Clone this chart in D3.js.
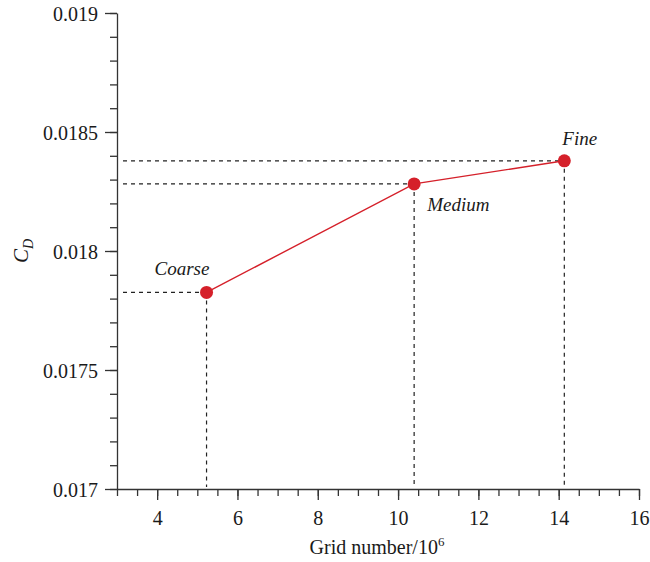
<!DOCTYPE html>
<html>
<head>
<meta charset="utf-8">
<script src="https://cdn.jsdelivr.net/npm/d3@7"></script>
<style>
body { margin: 0; background: #fff; }
svg { display: block; }
text { font-family: "Liberation Serif", "DejaVu Serif", serif; fill: #1a1a1a; }
</style>
</head>
<body>
<script>
// data
var grid_names = ["Coarse", "Medium", "Fine"];
var grid_numbers = [5.23, 10.40, 14.14];
var cd_values = [0.017826, 0.018282, 0.018379];

var x_major = [4, 6, 8, 10, 12, 14, 16];
var y_major = [0.017, 0.0175, 0.018, 0.0185, 0.019];

var width = 650, height = 562;
var left = 117, right = 639, top_ = 13, bottom = 489;
var red = "#d5202a";
var axis_color = "#333";

// label offsets from their point
var label_dx = [-52, 13, -2];
var label_dy = [-17, 27, -16];

var svg = d3.select("body").append("svg")
	.attr("width", width)
	.attr("height", height);

var x = d3.scaleLinear().domain([3, 16]).range([left, right]);
var y = d3.scaleLinear().domain([0.017, 0.019]).range([bottom, top_]);

var x_minor = d3.range(3, 16.01, 0.5);
var y_minor = d3.range(0, 21).map(function(i) { return 0.017 + i * 0.0001; });

function style_axis(g) {
	g.selectAll("path, line").attr("stroke", axis_color).attr("stroke-width", 1.3);
	g.selectAll("text").style("font-size", "20px").attr("fill", "#1a1a1a");
}

// minor ticks
svg.append("g")
	.attr("transform", "translate(0," + bottom + ")")
	.call(d3.axisBottom(x).tickValues(x_minor).tickSize(7).tickSizeOuter(0).tickFormat(""))
	.call(style_axis);
svg.append("g")
	.attr("transform", "translate(" + left + ",0)")
	.call(d3.axisLeft(y).tickValues(y_minor).tickSize(7).tickSizeOuter(0).tickFormat(""))
	.call(style_axis);

// major ticks with labels
var xg = svg.append("g")
	.attr("transform", "translate(0," + bottom + ")")
	.call(d3.axisBottom(x).tickValues(x_major).tickSize(11).tickSizeOuter(0).tickPadding(11))
	.call(style_axis);
xg.select(".domain").remove();

var yg = svg.append("g")
	.attr("transform", "translate(" + left + ",0)")
	.call(d3.axisLeft(y).tickValues(y_major).tickSize(12).tickSizeOuter(0).tickPadding(7)
		.tickFormat(function(d) { return String(+d.toFixed(4)); }))
	.call(style_axis);
yg.select(".domain").remove();
yg.selectAll("text").attr("dy", "0.35em");

// dashed guide lines
svg.selectAll(".hguide")
	.data(cd_values)
	.enter()
	.append("line")
	.attr("class", "hguide")
	.attr("x1", left + 6)
	.attr("x2", function(d, i) { return x(grid_numbers[i]); })
	.attr("y1", function(d) { return y(d); })
	.attr("y2", function(d) { return y(d); })
	.attr("stroke", "#222")
	.attr("stroke-width", 1.2)
	.attr("stroke-dasharray", "4,4");

svg.selectAll(".vguide")
	.data(grid_numbers)
	.enter()
	.append("line")
	.attr("class", "vguide")
	.attr("x1", function(d) { return x(d); })
	.attr("x2", function(d) { return x(d); })
	.attr("y1", function(d, i) { return y(cd_values[i]); })
	.attr("y2", bottom - 2)
	.attr("stroke", "#222")
	.attr("stroke-width", 1.2)
	.attr("stroke-dasharray", "4,4");

// red line and points
var line = d3.line()
	.x(function(d, i) { return x(grid_numbers[i]); })
	.y(function(d) { return y(d); });

svg.append("path")
	.datum(cd_values)
	.attr("d", line)
	.attr("fill", "none")
	.attr("stroke", red)
	.attr("stroke-width", 1.4);

svg.selectAll(".pt")
	.data(cd_values)
	.enter()
	.append("circle")
	.attr("class", "pt")
	.attr("cx", function(d, i) { return x(grid_numbers[i]); })
	.attr("cy", function(d) { return y(d); })
	.attr("r", 6.5)
	.attr("fill", red);

svg.selectAll(".pt_label")
	.data(grid_names)
	.enter()
	.append("text")
	.attr("class", "pt_label")
	.attr("x", function(d, i) { return x(grid_numbers[i]) + label_dx[i]; })
	.attr("y", function(d, i) { return y(cd_values[i]) + label_dy[i]; })
	.style("font-size", "19px")
	.style("font-style", "italic")
	.text(function(d) { return d; });

// axis titles
var xt = svg.append("text")
	.attr("x", 377)
	.attr("y", 554)
	.attr("text-anchor", "middle")
	.style("font-size", "20px");
xt.append("tspan").text("Grid number/10");
xt.append("tspan").attr("dy", "-8").style("font-size", "13px").text("6");

var yt = svg.append("text")
	.attr("transform", "translate(28,251) rotate(-90)")
	.attr("text-anchor", "middle")
	.style("font-size", "21px")
	.style("font-style", "italic");
yt.append("tspan").text("C");
yt.append("tspan").attr("dy", "5").style("font-size", "14px").text("D");
</script>
</body>
</html>
